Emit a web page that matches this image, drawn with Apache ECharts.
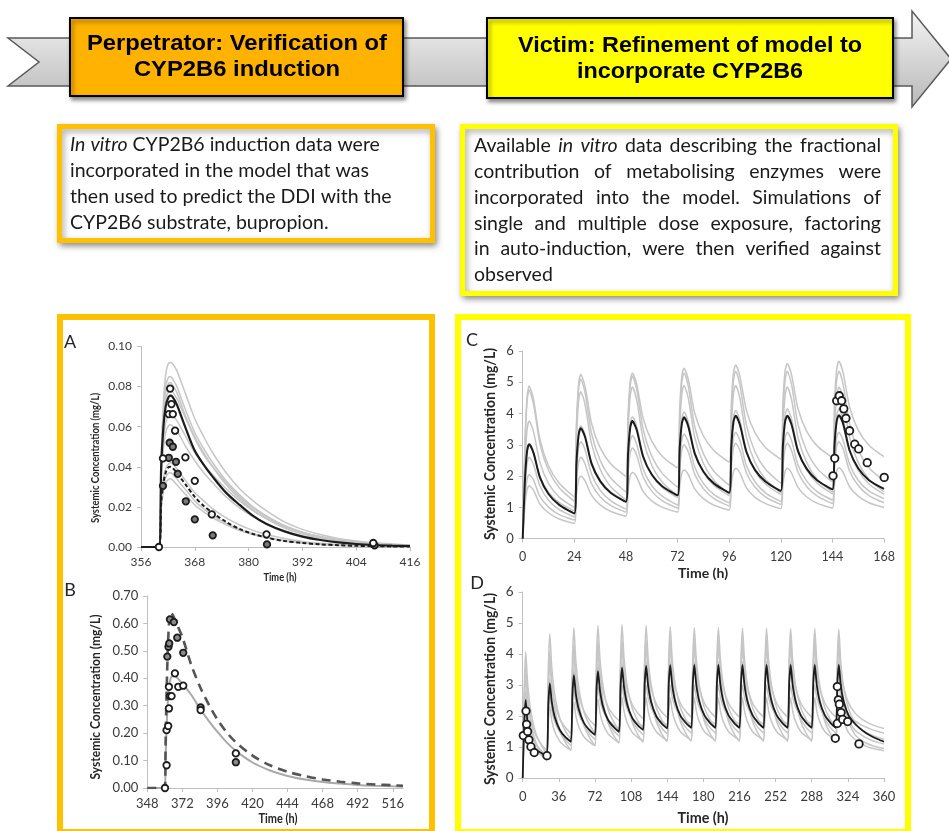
<!DOCTYPE html>
<html>
<head>
<meta charset="utf-8">
<script src="https://cdn.jsdelivr.net/npm/echarts@6/dist/echarts.min.js"></script>
<style>
html, body { margin: 0; padding: 0; background: #fff; }
#chart { width: 949px; height: 831px; }
</style>
</head>
<body>
<div id="chart"></div>
<script>
// ---------- panel A : perpetrator, single dose ----------
const A_TIME = [356, 360, 360.5, 361, 361.5, 362, 362.5, 363, 364, 365, 366, 368, 370, 372, 375, 378, 381, 384, 388, 392, 396, 400, 404, 408, 412, 416]
const A_MEAN = [0, 0, 0.040, 0.060, 0.070, 0.074, 0.0755, 0.075, 0.071, 0.065, 0.059, 0.048, 0.041, 0.035, 0.027, 0.021, 0.0155, 0.0115, 0.0078, 0.0052, 0.0035, 0.0023, 0.0015, 0.001, 0.0007, 0.0005]
const A_DASHED = [0, 0, 0.022, 0.032, 0.037, 0.0395, 0.040, 0.0395, 0.037, 0.034, 0.031, 0.025, 0.0205, 0.017, 0.0125, 0.009, 0.0065, 0.0047, 0.003, 0.002, 0.0013, 0.0009, 0.0006, 0.0004, 0.0003, 0.0002]
const A_SIMS = [
    [0, 0, 0.045, 0.072, 0.086, 0.091, 0.092, 0.0915, 0.088, 0.082, 0.076, 0.064, 0.055, 0.047, 0.037, 0.029, 0.023, 0.018, 0.0125, 0.0088, 0.0062, 0.0043, 0.003, 0.0021, 0.0015, 0.001],
    [0, 0, 0.043, 0.067, 0.080, 0.084, 0.085, 0.084, 0.080, 0.074, 0.068, 0.057, 0.049, 0.042, 0.033, 0.026, 0.020, 0.0155, 0.0107, 0.0074, 0.0051, 0.0035, 0.0024, 0.0017, 0.0012, 0.0008],
    [0, 0, 0.042, 0.065, 0.077, 0.081, 0.082, 0.081, 0.077, 0.071, 0.065, 0.055, 0.047, 0.040, 0.031, 0.024, 0.0185, 0.014, 0.0095, 0.0065, 0.0044, 0.003, 0.002, 0.0014, 0.001, 0.0007],
    [0, 0, 0.041, 0.062, 0.073, 0.077, 0.078, 0.0775, 0.074, 0.069, 0.064, 0.054, 0.046, 0.040, 0.032, 0.025, 0.0195, 0.015, 0.0105, 0.0073, 0.005, 0.0035, 0.0024, 0.0017, 0.0012, 0.0008],
    [0, 0, 0.036, 0.053, 0.062, 0.065, 0.066, 0.0655, 0.063, 0.059, 0.055, 0.047, 0.041, 0.036, 0.029, 0.023, 0.018, 0.0142, 0.0102, 0.0073, 0.0052, 0.0037, 0.0026, 0.0019, 0.0013, 0.0009],
    [0, 0, 0.033, 0.049, 0.057, 0.060, 0.061, 0.0605, 0.058, 0.054, 0.050, 0.043, 0.037, 0.032, 0.025, 0.0195, 0.015, 0.0115, 0.008, 0.0055, 0.0038, 0.0026, 0.0018, 0.0012, 0.0009, 0.0006],
    [0, 0, 0.024, 0.034, 0.039, 0.041, 0.042, 0.0415, 0.039, 0.036, 0.033, 0.027, 0.023, 0.019, 0.0145, 0.011, 0.0083, 0.0062, 0.0042, 0.0028, 0.0019, 0.0013, 0.0009, 0.0006, 0.0004, 0.0003],
    [0, 0, 0.021, 0.030, 0.0345, 0.0365, 0.037, 0.0365, 0.034, 0.031, 0.0285, 0.023, 0.019, 0.0157, 0.0118, 0.0088, 0.0066, 0.0049, 0.0032, 0.0021, 0.0014, 0.0009, 0.0006, 0.0004, 0.0003, 0.0002],
    [0, 0, 0.019, 0.028, 0.032, 0.0335, 0.034, 0.0335, 0.031, 0.0285, 0.026, 0.021, 0.0175, 0.0145, 0.011, 0.0082, 0.0062, 0.0046, 0.003, 0.002, 0.0013, 0.0009, 0.0006, 0.0004, 0.0003, 0.0002]
]
const A_OPEN_T = [360.0, 360.9, 362.2, 362.5, 362.8, 363.1, 363.6, 365.9, 368.0, 371.8, 384.0, 407.8]
const A_OPEN_C = [0, 0.0442, 0.0663, 0.079, 0.0713, 0.0663, 0.058, 0.0447, 0.033, 0.0163, 0.0063, 0.002]
const A_FILLED_T = [360.9, 362.2, 362.4, 363.1, 363.8, 364.2, 366.0, 368.0, 372.0, 384.1, 408.1]
const A_FILLED_C = [0.0305, 0.0445, 0.052, 0.050, 0.0425, 0.0365, 0.0228, 0.0138, 0.0058, 0.0013, 0.0008]
const A_XTICKS = [356, 368, 380, 392, 404, 416]
const A_YTICKS = [0, 0.02, 0.04, 0.06, 0.08, 0.10]

// ---------- panel B ----------
const B_TIME = [348, 360, 360.5, 361, 362, 363, 364, 366, 368, 372, 378, 384, 390, 396, 402, 408, 420, 432, 444, 456, 468, 480, 492, 504, 516, 523]
const B_SOLID = [0, 0, 0.10, 0.19, 0.31, 0.37, 0.40, 0.41, 0.405, 0.38, 0.34, 0.29, 0.245, 0.205, 0.168, 0.138, 0.093, 0.064, 0.044, 0.031, 0.022, 0.016, 0.011, 0.008, 0.006, 0.005]
const B_DASHED = [0, 0, 0.15, 0.30, 0.50, 0.61, 0.64, 0.625, 0.60, 0.55, 0.45, 0.37, 0.305, 0.25, 0.205, 0.17, 0.118, 0.083, 0.059, 0.043, 0.031, 0.023, 0.017, 0.013, 0.01, 0.008]
const B_OPEN_T = [360.1, 361.2, 361.2, 362.3, 362.8, 362.8, 363.5, 364.6, 366.9, 369.2, 372.6, 384.5, 408.6]
const B_OPEN_C = [0, 0.083, 0.211, 0.226, 0.29, 0.369, 0.335, 0.335, 0.418, 0.369, 0.373, 0.284, 0.126]
const B_FILLED_T = [361.7, 362.5, 363.0, 363.5, 366.2, 368.5, 372.6, 384.5, 408.6]
const B_FILLED_C = [0.479, 0.515, 0.527, 0.615, 0.605, 0.548, 0.493, 0.294, 0.094]
const B_XTICKS = [348, 372, 396, 420, 444, 468, 492, 516]
const B_YTICKS = [0, 0.1, 0.2, 0.3, 0.4, 0.5, 0.6, 0.7]

// ---------- panel C : 7 daily doses ----------
const C_TIME = [
    0, 1, 2, 3, 5, 8, 12, 17,
    24, 25, 26, 27, 29, 32, 36, 41,
    48, 49, 50, 51, 53, 56, 60, 65,
    72, 73, 74, 75, 77, 80, 84, 89,
    96, 97, 98, 99, 101, 104, 108, 113,
    120, 121, 122, 123, 125, 128, 132, 137,
    144, 145, 146, 147, 149, 152, 156, 161,
    168]
const C_MEAN = [
    0, 1.81, 2.78, 3.02, 2.75, 1.96, 1.43, 1.08,
    0.81, 2.44, 3.31, 3.53, 3.25, 2.40, 1.84, 1.46,
    1.18, 2.73, 3.55, 3.76, 3.48, 2.62, 2.05, 1.67,
    1.39, 2.88, 3.68, 3.88, 3.59, 2.72, 2.15, 1.76,
    1.47, 2.95, 3.73, 3.93, 3.64, 2.78, 2.20, 1.82,
    1.53, 2.97, 3.74, 3.93, 3.65, 2.80, 2.24, 1.86,
    1.58, 3.00, 3.76, 3.95, 3.67, 2.82, 2.25, 1.87,
    1.59]
const C_SIMS = [
    [0, 2.93, 4.49, 4.88, 4.46, 3.18, 2.33, 1.77,
     1.34, 3.69, 4.94, 5.25, 4.86, 3.69, 2.91, 2.39,
     2.0, 3.98, 5.04, 5.3, 4.94, 3.85, 3.12, 2.63,
     2.27, 4.18, 5.20, 5.45, 5.09, 4.01, 3.29, 2.81,
     2.45, 4.31, 5.30, 5.55, 5.19, 4.11, 3.39, 2.91,
     2.55, 4.38, 5.36, 5.6, 5.24, 4.16, 3.44, 2.96,
     2.6, 4.44, 5.42, 5.67, 5.30, 4.21, 3.47, 2.99,
     2.62],
    [0, 2.85, 4.37, 4.75, 4.32, 3.05, 2.19, 1.63,
     1.2, 3.54, 4.79, 5.1, 4.67, 3.37, 2.51, 1.93,
     1.5, 3.72, 4.90, 5.2, 4.77, 3.50, 2.64, 2.08,
     1.65, 3.84, 5.01, 5.3, 4.87, 3.58, 2.72, 2.15,
     1.72, 3.90, 5.06, 5.35, 4.92, 3.64, 2.78, 2.21,
     1.78, 3.92, 5.06, 5.35, 4.93, 3.66, 2.81, 2.24,
     1.82, 3.94, 5.07, 5.35, 4.93, 3.67, 2.83, 2.27,
     1.85],
    [0, 2.26, 3.46, 3.76, 3.43, 2.44, 1.77, 1.33,
     1.0, 3.22, 4.40, 4.7, 4.29, 3.04, 2.22, 1.66,
     1.25, 3.41, 4.56, 4.85, 4.43, 3.18, 2.35, 1.80,
     1.38, 3.49, 4.62, 4.9, 4.49, 3.24, 2.41, 1.86,
     1.44, 3.52, 4.62, 4.9, 4.49, 3.26, 2.44, 1.89,
     1.48, 3.50, 4.58, 4.85, 4.45, 3.24, 2.44, 1.90,
     1.5, 3.51, 4.58, 4.85, 4.45, 3.24, 2.44, 1.90,
     1.5],
    [0, 1.8, 2.76, 3.0, 2.75, 1.99, 1.49, 1.15,
     0.9, 2.52, 3.38, 3.6, 3.31, 2.45, 1.87, 1.49,
     1.2, 2.82, 3.68, 3.9, 3.59, 2.66, 2.04, 1.63,
     1.32, 2.96, 3.83, 4.05, 3.73, 2.77, 2.13, 1.70,
     1.38, 3.01, 3.88, 4.1, 3.78, 2.81, 2.17, 1.74,
     1.42, 3.06, 3.93, 4.15, 3.83, 2.85, 2.20, 1.77,
     1.44, 3.07, 3.93, 4.15, 3.82, 2.84, 2.18, 1.75,
     1.42],
    [0, 1.56, 2.39, 2.6, 2.37, 1.69, 1.23, 0.93,
     0.7, 2.14, 2.91, 3.1, 2.84, 2.07, 1.55, 1.21,
     0.95, 2.36, 3.11, 3.3, 3.03, 2.23, 1.70, 1.35,
     1.08, 2.44, 3.17, 3.35, 3.09, 2.29, 1.77, 1.41,
     1.15, 2.50, 3.22, 3.4, 3.14, 2.34, 1.82, 1.46,
     1.2, 2.52, 3.22, 3.4, 3.14, 2.36, 1.85, 1.50,
     1.24, 2.54, 3.23, 3.4, 3.15, 2.38, 1.87, 1.53,
     1.28],
    [0, 1.23, 1.89, 2.05, 1.88, 1.35, 1.01, 0.77,
     0.6, 1.8, 2.44, 2.6, 2.39, 1.76, 1.34, 1.06,
     0.85, 2.08, 2.74, 2.9, 2.67, 1.98, 1.52, 1.21,
     0.98, 2.19, 2.84, 3.0, 2.77, 2.06, 1.60, 1.28,
     1.05, 2.25, 2.89, 3.05, 2.82, 2.11, 1.65, 1.33,
     1.1, 2.27, 2.89, 3.05, 2.82, 2.13, 1.67, 1.36,
     1.13, 2.31, 2.94, 3.1, 2.87, 2.16, 1.70, 1.38,
     1.15],
    [0, 1.01, 1.55, 1.69, 1.55, 1.11, 0.83, 0.63,
     0.49, 1.40, 1.88, 2.0, 1.85, 1.39, 1.08, 0.87,
     0.72, 1.56, 2.01, 2.12, 1.97, 1.51, 1.21, 1.00,
     0.85, 1.66, 2.09, 2.2, 2.05, 1.59, 1.28, 1.07,
     0.92, 1.72, 2.14, 2.25, 2.10, 1.63, 1.32, 1.12,
     0.96, 1.73, 2.15, 2.25, 2.10, 1.64, 1.34, 1.13,
     0.98, 1.75, 2.17, 2.27, 2.12, 1.66, 1.36, 1.15,
     1.0]
]
const C_OBS_T = [144.3, 145.1, 146.0, 147.2, 148.3, 149.3, 150.3, 152, 154.4, 156.2, 160.2, 168.1]
const C_OBS_C = [2.01, 2.57, 4.41, 4.57, 4.41, 4.15, 3.85, 3.45, 3.02, 2.87, 2.43, 1.96]
const C_XTICKS = [0, 24, 48, 72, 96, 120, 144, 168]
const Y_TICKS_06 = [0, 1, 2, 3, 4, 5, 6]

// ---------- panel D : 14 daily doses ----------
const D_TIME = [
    0, 1.5, 3, 5, 8, 13, 19,
    24, 25.5, 27, 29, 32, 37, 43,
    48, 49.5, 51, 53, 56, 61, 67,
    72, 73.5, 75, 77, 80, 85, 91,
    96, 97.5, 99, 101, 104, 109, 115,
    120, 121.5, 123, 125, 128, 133, 139,
    144, 145.5, 147, 149, 152, 157, 163,
    168, 169.5, 171, 173, 176, 181, 187,
    192, 193.5, 195, 197, 200, 205, 211,
    216, 217.5, 219, 221, 224, 229, 235,
    240, 241.5, 243, 245, 248, 253, 259,
    264, 265.5, 267, 269, 272, 277, 283,
    288, 289.5, 291, 293, 296, 301, 307,
    312, 313.5, 315, 317, 320, 325, 331, 336, 342, 348, 354, 360]
const D_MEAN = [
    0, 1.76, 2.52, 1.7, 1.2, 0.92, 0.8,
    0.72, 2.35, 3.05, 2.45, 1.96, 1.55, 1.30,
    1.17, 2.68, 3.32, 2.70, 2.20, 1.78, 1.53,
    1.39, 2.83, 3.45, 2.82, 2.31, 1.88, 1.63,
    1.49, 2.94, 3.56, 2.92, 2.39, 1.95, 1.69,
    1.55, 3.00, 3.62, 2.97, 2.45, 2.00, 1.74,
    1.60, 3.03, 3.64, 2.99, 2.47, 2.02, 1.76,
    1.62, 3.04, 3.65, 3.00, 2.47, 2.03, 1.76,
    1.62, 3.04, 3.65, 3.00, 2.47, 2.03, 1.76,
    1.62, 3.04, 3.65, 3.00, 2.47, 2.03, 1.76,
    1.62, 3.04, 3.65, 3.00, 2.47, 2.03, 1.76,
    1.62, 3.04, 3.65, 3.00, 2.47, 2.03, 1.76,
    1.62, 3.04, 3.65, 3.00, 2.47, 2.03, 1.76,
    1.62, 3.04, 3.65, 2.95, 2.45, 2.0, 1.75, 1.6, 1.45, 1.34, 1.25, 1.17]
const D_SIMS = [
    [0, 2.85, 4.07, 3.02, 2.17, 1.45, 1.03,
     0.8, 3.50, 4.65, 3.56, 2.68, 1.93, 1.49,
     1.25, 3.77, 4.85, 3.76, 2.88, 2.13, 1.69,
     1.45, 3.88, 4.92, 3.84, 2.97, 2.22, 1.79,
     1.55, 3.92, 4.94, 3.87, 3.00, 2.27, 1.83,
     1.6, 3.92, 4.92, 3.86, 3.01, 2.28, 1.85,
     1.62, 3.90, 4.88, 3.84, 3.00, 2.28, 1.86,
     1.63, 3.88, 4.85, 3.82, 2.98, 2.27, 1.86,
     1.63, 3.88, 4.85, 3.82, 2.98, 2.27, 1.86,
     1.63, 3.87, 4.83, 3.81, 2.97, 2.27, 1.86,
     1.63, 3.87, 4.83, 3.81, 2.97, 2.27, 1.86,
     1.63, 3.86, 4.82, 3.80, 2.97, 2.27, 1.86,
     1.63, 3.86, 4.82, 3.80, 2.97, 2.27, 1.86,
     1.63, 3.85, 4.8, 3.7, 2.9, 2.2, 1.8, 1.6, 1.47, 1.38, 1.31, 1.25],
    [0, 2.31, 3.3, 2.53, 1.91, 1.38, 1.07,
     0.9, 2.86, 3.7, 2.98, 2.40, 1.90, 1.61,
     1.45, 3.24, 4.0, 3.26, 2.67, 2.16, 1.86,
     1.7, 3.38, 4.1, 3.38, 2.80, 2.30, 2.01,
     1.85, 3.50, 4.2, 3.47, 2.88, 2.38, 2.08,
     1.92, 3.52, 4.2, 3.48, 2.90, 2.40, 2.11,
     1.95, 3.53, 4.2, 3.49, 2.91, 2.42, 2.13,
     1.97, 3.53, 4.2, 3.49, 2.91, 2.42, 2.13,
     1.97, 3.53, 4.2, 3.49, 2.91, 2.42, 2.13,
     1.97, 3.53, 4.2, 3.49, 2.91, 2.42, 2.13,
     1.97, 3.53, 4.2, 3.49, 2.91, 2.42, 2.13,
     1.97, 3.53, 4.2, 3.49, 2.91, 2.42, 2.13,
     1.97, 3.53, 4.2, 3.49, 2.91, 2.42, 2.13,
     1.97, 3.53, 4.2, 3.45, 2.9, 2.4, 2.1, 1.95, 1.82, 1.72, 1.65, 1.6],
    [0, 1.96, 2.8, 2.11, 1.55, 1.08, 0.80,
     0.65, 2.44, 3.2, 2.51, 1.95, 1.48, 1.20,
     1.05, 2.77, 3.5, 2.78, 2.20, 1.70, 1.41,
     1.25, 2.93, 3.65, 2.91, 2.32, 1.81, 1.51,
     1.35, 3.00, 3.7, 2.96, 2.37, 1.86, 1.56,
     1.4, 3.05, 3.75, 3.01, 2.40, 1.89, 1.59,
     1.43, 3.05, 3.75, 3.01, 2.42, 1.91, 1.61,
     1.45, 3.06, 3.75, 3.01, 2.42, 1.91, 1.61,
     1.45, 3.06, 3.75, 3.01, 2.42, 1.91, 1.61,
     1.45, 3.06, 3.75, 3.01, 2.42, 1.91, 1.61,
     1.45, 3.06, 3.75, 3.01, 2.42, 1.91, 1.61,
     1.45, 3.06, 3.75, 3.01, 2.42, 1.91, 1.61,
     1.45, 3.06, 3.75, 3.01, 2.42, 1.91, 1.61,
     1.45, 3.06, 3.75, 2.95, 2.35, 1.85, 1.55, 1.42, 1.3, 1.21, 1.15, 1.1],
    [0, 1.75, 2.5, 1.94, 1.49, 1.10, 0.87,
     0.75, 2.08, 2.65, 2.19, 1.81, 1.49, 1.30,
     1.2, 2.36, 2.85, 2.40, 2.04, 1.73, 1.55,
     1.45, 2.50, 2.95, 2.52, 2.17, 1.87, 1.70,
     1.6, 2.58, 3.0, 2.58, 2.23, 1.94, 1.77,
     1.68, 2.60, 3.0, 2.59, 2.26, 1.98, 1.81,
     1.72, 2.62, 3.0, 2.60, 2.28, 2.00, 1.84,
     1.75, 2.63, 3.0, 2.60, 2.28, 2.00, 1.84,
     1.75, 2.63, 3.0, 2.60, 2.28, 2.00, 1.84,
     1.75, 2.63, 3.0, 2.60, 2.28, 2.00, 1.84,
     1.75, 2.63, 3.0, 2.60, 2.28, 2.00, 1.84,
     1.75, 2.63, 3.0, 2.60, 2.28, 2.00, 1.84,
     1.75, 2.63, 3.0, 2.60, 2.28, 2.00, 1.84,
     1.75, 2.63, 3.0, 2.6, 2.28, 2.0, 1.84, 1.74, 1.64, 1.56, 1.5, 1.45],
    [0, 1.54, 2.2, 1.69, 1.27, 0.92, 0.71,
     0.6, 1.79, 2.3, 1.85, 1.49, 1.18, 1.00,
     0.9, 1.99, 2.45, 2.00, 1.64, 1.33, 1.15,
     1.05, 2.10, 2.55, 2.10, 1.74, 1.43, 1.25,
     1.15, 2.17, 2.6, 2.15, 1.79, 1.48, 1.30,
     1.2, 2.18, 2.6, 2.16, 1.80, 1.50, 1.32,
     1.22, 2.19, 2.6, 2.16, 1.81, 1.50, 1.33,
     1.23, 2.19, 2.6, 2.16, 1.81, 1.50, 1.33,
     1.23, 2.19, 2.6, 2.16, 1.81, 1.50, 1.33,
     1.23, 2.19, 2.6, 2.16, 1.81, 1.50, 1.33,
     1.23, 2.19, 2.6, 2.16, 1.81, 1.50, 1.33,
     1.23, 2.19, 2.6, 2.16, 1.81, 1.50, 1.33,
     1.23, 2.19, 2.6, 2.16, 1.81, 1.50, 1.33,
     1.23, 2.19, 2.6, 2.15, 1.8, 1.45, 1.25, 1.13, 1.03, 0.96, 0.92, 0.88],
    [0, 2.52, 3.6, 2.62, 1.83, 1.16, 0.76,
     0.55, 3.04, 4.1, 3.08, 2.24, 1.54, 1.12,
     0.9, 3.28, 4.3, 3.26, 2.42, 1.70, 1.28,
     1.05, 3.40, 4.4, 3.35, 2.50, 1.78, 1.35,
     1.12, 3.45, 4.45, 3.39, 2.54, 1.81, 1.38,
     1.15, 3.46, 4.45, 3.40, 2.55, 1.83, 1.40,
     1.17, 3.47, 4.45, 3.40, 2.55, 1.83, 1.41,
     1.18, 3.47, 4.45, 3.40, 2.55, 1.83, 1.41,
     1.18, 3.47, 4.45, 3.40, 2.55, 1.83, 1.41,
     1.18, 3.47, 4.45, 3.40, 2.55, 1.83, 1.41,
     1.18, 3.47, 4.45, 3.40, 2.55, 1.83, 1.41,
     1.18, 3.47, 4.45, 3.40, 2.55, 1.83, 1.41,
     1.18, 3.47, 4.45, 3.40, 2.55, 1.83, 1.41,
     1.18, 3.47, 4.45, 3.35, 2.5, 1.8, 1.4, 1.25, 1.13, 1.05, 0.99, 0.95]
]
const D_OBS_T = [0.6, 3.3, 3.9, 4.9, 6.2, 8.2, 11.5, 24.2, 311.5, 313.5, 313.5, 314.5, 315.5, 317.2, 318.8, 323.8, 335.1]
const D_OBS_C = [1.37, 2.16, 1.73, 1.5, 1.23, 1.01, 0.82, 0.72, 1.28, 2.95, 1.76, 2.52, 2.38, 2.11, 1.89, 1.82, 1.10]
const D_XTICKS = [0, 36, 72, 108, 144, 180, 216, 252, 288, 324, 360]

// ---------- texts ----------
const BANNER_LEFT = ['Perpetrator: Verification of', 'CYP2B6 induction']
const BANNER_RIGHT = ['Victim: Refinement of model to', 'incorporate CYP2B6']
const BOX1_LINES = [
    '_In _vitro CYP2B6 induction data were',
    'incorporated in the model that was',
    'then used to predict the DDI with the',
    'CYP2B6 substrate, bupropion.'
]
const BOX2_LINES = [
    'Available _in _vitro data describing the fractional',
    'contribution of metabolising enzymes were',
    'incorporated into the model. Simulations of',
    'single and multiple dose exposure, factoring',
    'in auto-induction, were then verified against',
    'observed'
]

const FONT = 'Lato'
const BANNER_FONT = '"Liberation Sans", Arial, sans-serif'
const AXIS_GREY = '#bfbfbf'
const LABEL_COLOR = '#3a3a3a'
const SIM_GREY = '#c6c6c6'
const INK = '#1c1c1c'

const measureCtx = document.createElement('canvas').getContext('2d')
function textWidth(text, size, weight, family, italic) {
    measureCtx.font = (italic ? 'italic ' : '') + (weight || 'normal') + ' ' + size + 'px ' + family
    return measureCtx.measureText(text).width
}
function fitSize(text, target, weight, family) {
    return 100 * target / textWidth(text, 100, weight, family)
}

const zip = (xs, ys) => xs.map((x, i) => [x, ys[i]])

function lineSeries(gi, xs, ys, lineStyle, smooth) {
    return {
        type: 'line', xAxisIndex: gi, yAxisIndex: gi,
        data: zip(xs, ys), symbol: 'none', smooth: smooth,
        lineStyle: lineStyle, silent: true, animation: false
    }
}
function dotSeries(gi, xs, ys, fill, size) {
    return {
        type: 'scatter', xAxisIndex: gi, yAxisIndex: gi, clip: false,
        data: zip(xs, ys), symbol: 'circle', symbolSize: size,
        itemStyle: { color: fill, borderColor: INK, borderWidth: 1.8, opacity: 1 },
        silent: true, animation: false, z: 5
    }
}

function xAxisFor(gi, min, max, ticks, size, margin) {
    return {
        type: 'value', gridIndex: gi, min: min, max: max,
        axisLine: { show: true, onZero: false, lineStyle: { color: AXIS_GREY, width: 1 } },
        axisTick: { show: true, length: 4, customValues: ticks, lineStyle: { color: AXIS_GREY } },
        axisLabel: { customValues: ticks, color: LABEL_COLOR, fontFamily: FONT, fontSize: size, margin: margin },
        splitLine: { show: false }
    }
}
function yAxisFor(gi, max, ticks, digits, size) {
    return {
        type: 'value', gridIndex: gi, min: 0, max: max,
        axisLine: { show: true, onZero: false, lineStyle: { color: AXIS_GREY, width: 1 } },
        axisTick: { show: true, length: 4, customValues: ticks, lineStyle: { color: AXIS_GREY } },
        axisLabel: {
            customValues: ticks, color: LABEL_COLOR, fontFamily: FONT, fontSize: size, margin: 9,
            formatter: v => v.toFixed(digits)
        },
        splitLine: { show: false }
    }
}

// words placed one by one so the right-hand box can be justified
function paragraph(lines, x, y0, lineH, size, justifyWidth) {
    const els = []
    const space = textWidth(' ', size, 'normal', FONT)
    lines.forEach((line, li) => {
        const words = line.split(' ').filter(Boolean).map(w => ({ t: w.replace('_', ''), it: w.startsWith('_') }))
        const widths = words.map(w => textWidth(w.t, size, 'normal', FONT, w.it))
        const total = widths.reduce((a, b) => a + b, 0)
        const gap = (justifyWidth && li < lines.length - 1) ? (justifyWidth - total) / (words.length - 1) : space
        let cx = x
        words.forEach((w, i) => {
            els.push({
                type: 'text', x: cx, y: y0 + li * lineH, silent: true,
                style: { text: w.t, fontSize: size, fontFamily: FONT, fontStyle: w.it ? 'italic' : 'normal', fill: '#1a1a1a', verticalAlign: 'middle' }
            })
            cx += widths[i] + gap
        })
    })
    return els
}

// text drawn at a given height and squeezed along its direction
function squeezedText(text, x, y, size, weight, family, sx, rotate, fill) {
    return {
        type: 'text', x: x, y: y, rotation: rotate ? Math.PI / 2 : 0, scaleX: sx, silent: true,
        style: { text: text, fontSize: size, fontWeight: weight, fontFamily: family, fill: fill || '#262626', align: 'center', verticalAlign: 'middle' }
    }
}
function squeezed(text, x, y, size, weight, family, width, rotate) {
    return squeezedText(text, x, y, size, weight, family, width / textWidth(text, size, weight, family), rotate)
}
// two banner lines share the squeeze of the first line
function bannerLines(lines, x, y, width) {
    const sx = width / textWidth(lines[0], 22, 'bold', BANNER_FONT)
    return lines.map((t, i) => squeezedText(t, x, y + i * 26, 22, 'bold', BANNER_FONT, sx, false, '#000'))
}

function letter(text, x, y) {
    return {
        type: 'text', x: x, y: y, silent: true,
        style: { text: text, fontSize: 18, fontFamily: FONT, fill: '#262626', align: 'center', verticalAlign: 'middle' }
    }
}

window.addEventListener('DOMContentLoaded', () => {
    const chart = echarts.init(document.getElementById('chart'))

    const bodySize = fitSize('then used to predict the DDI with the', 322, 'normal', FONT)
    const yName = 'Systemic Concentration (mg/L)'

    const series = []
    A_SIMS.forEach(v => series.push(lineSeries(0, A_TIME, v, { color: SIM_GREY, width: 1.5 }, 0.3)))
    series.push(lineSeries(0, A_TIME, A_MEAN, { color: INK, width: 2.2 }, 0.3))
    series.push(lineSeries(0, A_TIME, A_DASHED, { color: INK, width: 2, type: [4, 2.5] }, 0.3))
    series.push(dotSeries(0, A_FILLED_T, A_FILLED_C, '#7a7a7a', 6.5))
    series.push(dotSeries(0, A_OPEN_T, A_OPEN_C, '#ffffff', 6.5))

    series.push(lineSeries(1, B_TIME, B_SOLID, { color: '#a9a9a9', width: 2 }, 0.3))
    series.push(lineSeries(1, B_TIME, B_DASHED, { color: '#555555', width: 2.6, type: [9, 6] }, 0.3))
    series.push(dotSeries(1, B_FILLED_T, B_FILLED_C, '#8a8a8a', 6.5))
    series.push(dotSeries(1, B_OPEN_T, B_OPEN_C, '#ffffff', 6.5))

    C_SIMS.forEach(v => series.push(lineSeries(2, C_TIME, v, { color: SIM_GREY, width: 1.5 }, 0.25)))
    series.push(lineSeries(2, C_TIME, C_MEAN, { color: INK, width: 2 }, 0.25))
    series.push(dotSeries(2, C_OBS_T, C_OBS_C, '#ffffff', 7.5))

    D_SIMS.forEach(v => series.push(lineSeries(3, D_TIME, v, { color: SIM_GREY, width: 1.5 }, 0.2)))
    series.push(lineSeries(3, D_TIME, D_MEAN, { color: INK, width: 1.8 }, 0.2))
    series.push(dotSeries(3, D_OBS_T, D_OBS_C, '#ffffff', 7.5))

    const boxShadow = { shadowBlur: 6, shadowOffsetX: 2, shadowOffsetY: 3, shadowColor: 'rgba(0,0,0,0.35)' }
    const bannerShadow = { shadowBlur: 4, shadowOffsetX: 2, shadowOffsetY: 3, shadowColor: 'rgba(0,0,0,0.45)' }

    const graphic = [
        {
            type: 'polygon', silent: true,
            shape: { points: [[8, 38], [912, 38], [912, 11], [951, 59], [912, 107], [912, 86], [8, 86], [39, 62]] },
            style: {
                fill: new echarts.graphic.LinearGradient(0, 0, 0, 1, [
                    { offset: 0, color: '#f4f4f4' }, { offset: 0.5, color: '#d6d6d6' }, { offset: 1, color: '#b8b8b8' }]),
                stroke: '#5a5a5a', lineWidth: 1.5
            }
        },
        { type: 'rect', silent: true, shape: { x: 70, y: 18, width: 333, height: 78 },
          style: Object.assign({ fill: '#ffb300', stroke: '#000', lineWidth: 2 }, bannerShadow) },
        { type: 'rect', silent: true, shape: { x: 487, y: 18, width: 406, height: 80 },
          style: Object.assign({ fill: '#ffff00', stroke: '#000', lineWidth: 2 }, bannerShadow) },

        { type: 'rect', silent: true, shape: { x: 59.5, y: 126.5, width: 373, height: 114 },
          style: Object.assign({ fill: '#fff', stroke: '#ffc000', lineWidth: 5 }, boxShadow) },
        { type: 'rect', silent: true, shape: { x: 462.5, y: 126.5, width: 433, height: 167 },
          style: Object.assign({ fill: '#fff', stroke: '#ffff00', lineWidth: 5 }, boxShadow) },

        { type: 'rect', silent: true, shape: { x: 60, y: 317, width: 372, height: 515 },
          style: { fill: 'transparent', stroke: '#ffc000', lineWidth: 6 } },
        { type: 'rect', silent: true, shape: { x: 458, y: 317, width: 450, height: 515 },
          style: { fill: 'transparent', stroke: '#ffff00', lineWidth: 6 } },

        letter('A', 70, 342),
        letter('B', 70, 590),
        letter('C', 472, 340),
        letter('D', 477, 583),

        squeezed(yName, 95, 458, 11, 'bold', FONT, 130, true),
        squeezed(yName, 96, 697, 13, 'bold', FONT, 165, true),
        squeezed(yName, 490, 444, 14.5, 'bold', FONT, 192, true),
        squeezed(yName, 490, 689, 14.5, 'bold', FONT, 192, true),

        squeezed('Time (h)', 280, 577, 11, 'bold', FONT, 33),
        squeezed('Time (h)', 278, 819, 12.5, 'bold', FONT, 39),
        squeezed('Time (h)', 703, 573, 14, 'bold', FONT, 50),
        squeezed('Time (h)', 703, 818, 14.5, 'bold', FONT, 51)
    ].concat(
        bannerLines(BANNER_LEFT, 237, 44, 300),
        bannerLines(BANNER_RIGHT, 690, 46, 344),
        paragraph(BOX1_LINES, 70, 145, 25.8, bodySize, null),
        paragraph(BOX2_LINES, 474, 146, 25.8, bodySize, 407)
    )

    chart.setOption({
        animation: false,
        backgroundColor: '#ffffff',
        grid: [
            { left: 141, top: 346.5, width: 269, height: 200.5 },
            { left: 147.3, top: 596, width: 255.7, height: 192 },
            { left: 522.7, top: 351, width: 361.3, height: 187.7 },
            { left: 522.7, top: 592, width: 361.3, height: 186 }
        ],
        xAxis: [
            xAxisFor(0, 356, 416, A_XTICKS, 12, 9),
            xAxisFor(1, 348, 523, B_XTICKS, 13, 9),
            xAxisFor(2, 0, 168, C_XTICKS, 12.5, 12),
            xAxisFor(3, 0, 360, D_XTICKS, 13, 12)
        ],
        yAxis: [
            yAxisFor(0, 0.1, A_YTICKS, 2, 12),
            yAxisFor(1, 0.7, B_YTICKS, 2, 13),
            yAxisFor(2, 6, Y_TICKS_06, 0, 13),
            yAxisFor(3, 6, Y_TICKS_06, 0, 13.5)
        ],
        series: series,
        graphic: graphic
    })
})
</script>
</body>
</html>
